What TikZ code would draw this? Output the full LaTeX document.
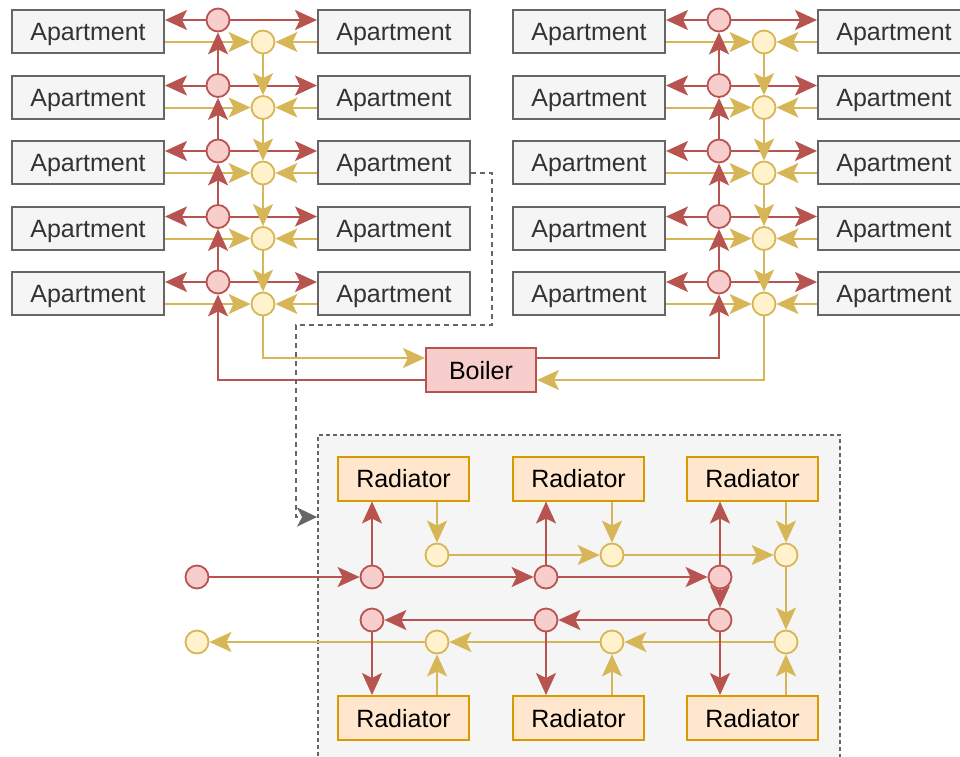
\documentclass[tikz,border=0pt]{standalone}
\usepackage{fontspec}
\setmainfont{Liberation Sans}
\usetikzlibrary{arrows.meta}

\definecolor{hotline}{HTML}{B85450}
\definecolor{hotfill}{HTML}{F8CECC}
\definecolor{coldline}{HTML}{D6B656}
\definecolor{coldfill}{HTML}{FFF2CC}
\definecolor{aptline}{HTML}{666666}
\definecolor{aptfill}{HTML}{F5F5F5}
\definecolor{apttext}{HTML}{333333}
\definecolor{radline}{HTML}{D79B00}
\definecolor{radfill}{HTML}{FFE6CC}

\tikzset{
  flowtip/.style={-{Stealth[length=22pt,width=20pt,inset=5pt]}},
  hotpipe/.style={draw=hotline, line width=2pt, flowtip},
  coldpipe/.style={draw=coldline, line width=2pt, flowtip},
  label text/.style={font=\fontsize{25}{30}\selectfont, text height=18pt, text depth=0pt},
  apt/.style={draw=aptline, fill=aptfill, text=apttext, line width=2pt,
    minimum width=152pt, minimum height=43pt, inner sep=0pt, label text},
  radiator/.style={draw=radline, fill=radfill, text=black, line width=2pt,
    minimum width=131pt, minimum height=44pt, inner sep=0pt, label text},
  boilerbox/.style={draw=hotline, fill=hotfill, text=black, line width=2pt,
    minimum width=110pt, minimum height=44pt, inner sep=0pt, label text},
  hot/.style={circle, draw=hotline, fill=hotfill, line width=1.8pt,
    minimum size=23pt, inner sep=0pt},
  cold/.style={circle, draw=coldline, fill=coldfill, line width=1.8pt,
    minimum size=23pt, inner sep=0pt},
  detailbox/.style={draw=aptline, fill=aptfill, line width=1.8pt,
    dash pattern=on 4pt off 3pt, minimum width=522pt, minimum height=340pt,
    inner sep=0pt},
  linkline/.style={draw=aptline, line width=1.8pt, dash pattern=on 5pt off 4pt,
    -{Stealth[length=20pt,width=19pt,inset=5pt]}},
}

\begin{document}
\begin{tikzpicture}[x=1pt, y=-1pt]
\clip (0,0) rectangle (960,756);

% ---------- building: two risers with five floors each ----------
\foreach \i/\yc in {1/31.5, 2/97, 3/162.5, 4/228, 5/293.5} {
  \node[apt] (la\i) at (88,\yc) {Apartment};
  \node[apt] (ra\i) at (394,\yc) {Apartment};
  \node[apt] (lb\i) at (589,\yc) {Apartment};
  \node[apt] (rb\i) at (894,\yc) {Apartment};
  \node[hot]  (h\i) at (218,\yc-11.5) {};
  \node[cold] (c\i) at (263,\yc+10.5) {};
  \node[hot]  (H\i) at (719,\yc-11.5) {};
  \node[cold] (C\i) at (764,\yc+10.5) {};
}

\foreach \i in {1,...,5} {
  % supply to each flat
  \draw[hotpipe] (h\i) -- (h\i -| la\i.east);
  \draw[hotpipe] (h\i) -- (h\i -| ra\i.west);
  \draw[hotpipe] (H\i) -- (H\i -| lb\i.east);
  \draw[hotpipe] (H\i) -- (H\i -| rb\i.west);
  % return from each flat
  \draw[coldpipe] (c\i -| la\i.east) -- (c\i);
  \draw[coldpipe] (c\i -| ra\i.west) -- (c\i);
  \draw[coldpipe] (C\i -| lb\i.east) -- (C\i);
  \draw[coldpipe] (C\i -| rb\i.west) -- (C\i);
}

\foreach \i/\j in {1/2, 2/3, 3/4, 4/5} {
  \draw[hotpipe] (h\j) -- (h\i);
  \draw[coldpipe] (c\i) -- (c\j);
  \draw[hotpipe] (H\j) -- (H\i);
  \draw[coldpipe] (C\i) -- (C\j);
}

% ---------- boiler ----------
\node[boilerbox] (boiler) at (481,370) {Boiler};
\draw[coldpipe] (c5) |- ([yshift=12pt]boiler.west);
\draw[hotpipe] ([yshift=-10pt]boiler.west) -| (h5);
\draw[hotpipe] ([yshift=12pt]boiler.east) -| (H5);
\draw[coldpipe] (C5) |- ([yshift=-10pt]boiler.east);

% ---------- detail of one flat ----------
\node[detailbox] (detail) at (579,605) {};

\draw[linkline] ([yshift=-10.5pt]ra3.east) -- (492,173) -- (492,325)
  -- (296,325) |- (detail.west |- 0,517);

\node[radiator] (rt1) at (403.5,478.5) {Radiator};
\node[radiator] (rt2) at (578.5,478.5) {Radiator};
\node[radiator] (rt3) at (752.5,478.5) {Radiator};
\node[radiator] (rd1) at (403.5,718) {Radiator};
\node[radiator] (rd2) at (578.5,718) {Radiator};
\node[radiator] (rd3) at (752.5,718) {Radiator};

\node[hot] (rs0) at (197,577) {};
\node[hot] (rs1) at (372,577) {};
\node[hot] (rs2) at (546,577) {};
\node[hot] (rs3) at (720,577) {};
\node[hot] (rr1) at (372,620) {};
\node[hot] (rr2) at (546,620) {};
\node[hot] (rr3) at (720,620) {};

\node[cold] (ys1) at (437,555) {};
\node[cold] (ys2) at (612,555) {};
\node[cold] (ys3) at (786,555) {};
\node[cold] (yr0) at (197,642) {};
\node[cold] (yr1) at (437,642) {};
\node[cold] (yr2) at (612,642) {};
\node[cold] (yr3) at (786,642) {};

% supply loop
\draw[hotpipe] (rs0) -- (rs1);
\draw[hotpipe] (rs1) -- (rs2);
\draw[hotpipe] (rs2) -- (rs3);
\draw[hotpipe] (rs3) -- (rr3);
\draw[hotpipe] (rr3) -- (rr2);
\draw[hotpipe] (rr2) -- (rr1);

% return loop
\draw[coldpipe] (ys1) -- (ys2);
\draw[coldpipe] (ys2) -- (ys3);
\draw[coldpipe] (ys3) -- (yr3);
\draw[coldpipe] (yr3) -- (yr2);
\draw[coldpipe] (yr2) -- (yr1);
\draw[coldpipe] (yr1) -- (yr0);

\foreach \k in {1,2,3} {
  \draw[hotpipe] (rs\k) -- (rs\k |- rt\k.south);
  \draw[hotpipe] (rr\k) -- (rr\k |- rd\k.north);
  \draw[coldpipe] (ys\k |- rt\k.south) -- (ys\k);
  \draw[coldpipe] (yr\k |- rd\k.north) -- (yr\k);
}
\end{tikzpicture}
\end{document}
